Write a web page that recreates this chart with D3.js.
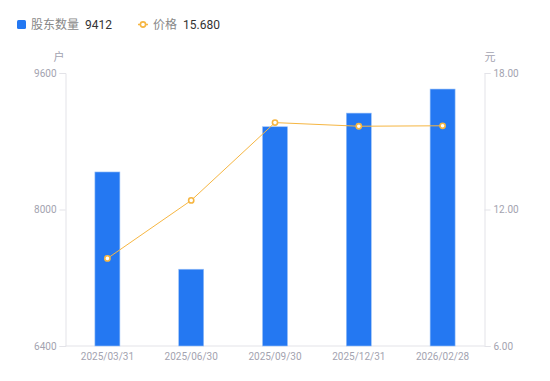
<!DOCTYPE html>
<html><head><meta charset="utf-8">
<script src="https://cdn.jsdelivr.net/npm/d3@7"></script>
<style>body{margin:0;background:#fff;font-family:"Noto Sans CJK SC","Noto Sans",sans-serif;}</style>
</head><body>
<svg id="c" width="550" height="381"></svg>
<script>
const categories = ["2025/03/31","2025/06/30","2025/09/30","2025/12/31","2026/02/28"];
const holders = [8440, 7300, 8970, 9130, 9412];
const prices = [9.85, 12.40, 15.82, 15.66, 15.68];
const leftTicks = [6400, 8000, 9600];
const rightTicks = [6, 12, 18];

const svg = d3.select("#c");
const m = {l:65.5, r:484.5, t:73, b:346};
const x = d3.scaleBand().domain(categories).range([m.l, m.r]);
const yL = d3.scaleLinear().domain([6400, 9600]).range([m.b, m.t]);
const yR = d3.scaleLinear().domain([6, 18]).range([m.b, m.t]);
const grayText = "#a3a3b0", axisCol = "#e3e3e8";

// left axis
const gl = svg.append("g").attr("transform",`translate(${m.l},0)`)
  .call(d3.axisLeft(yL).tickValues(leftTicks).tickSize(6).tickPadding(3).tickFormat(d3.format("d")));
// right axis
const gr = svg.append("g").attr("transform",`translate(${m.r},0)`)
  .call(d3.axisRight(yR).tickValues(rightTicks).tickSize(6).tickPadding(3).tickFormat(d3.format(".2f")));
// bottom axis
const gb = svg.append("g").attr("transform",`translate(0,${m.b})`)
  .call(d3.axisBottom(x).tickSize(0).tickPadding(7));
[gl,gr,gb].forEach(g=>{
  g.selectAll("path").attr("stroke",axisCol);
  g.selectAll("line").attr("stroke",axisCol);
  g.selectAll("text").attr("fill",grayText).style("font-size","10px").style("font-family","Roboto,'Liberation Sans',sans-serif");
});
gb.select("path").attr("d",`M${m.l},0H${m.r}`);

svg.append("text").attr("x",59).attr("y",61).attr("text-anchor","middle").attr("fill",grayText)
  .style("font-size","11px").text("户");
svg.append("text").attr("x",490).attr("y",61).attr("text-anchor","middle").attr("fill",grayText)
  .style("font-size","11px").text("元");

// bars
const bw = 25;
svg.append("g").selectAll("rect").data(holders).join("rect")
  .attr("x",(d,i)=>x(categories[i])+x.bandwidth()/2-bw/2)
  .attr("y",d=>yL(d)).attr("width",bw).attr("height",d=>m.b-yL(d))
  .attr("fill","#2478f2").attr("stroke","#9cc2f7").attr("stroke-width",0.6);

// line
const lineCol = "#f6b642";
const line = d3.line().x((d,i)=>x(categories[i])+x.bandwidth()/2).y(d=>yR(d));
svg.append("path").datum(prices).attr("d",line).attr("fill","none").attr("stroke",lineCol).attr("stroke-width",1);
svg.append("g").selectAll("circle").data(prices).join("circle")
  .attr("cx",(d,i)=>x(categories[i])+x.bandwidth()/2).attr("cy",d=>yR(d)).attr("r",2.6)
  .attr("fill","#fff").attr("stroke",lineCol).attr("stroke-width",1.6);

// legend
const lg = svg.append("g").style("font-size","12px");
lg.append("rect").attr("x",17).attr("y",20).attr("width",9).attr("height",9).attr("rx",1.5).attr("fill","#2478f2");
lg.append("text").attr("x",31).attr("y",29).attr("fill","#888").text("股东数量");
lg.append("text").attr("x",85).attr("y",29).attr("fill","#333").style("font-family","Roboto,'Liberation Sans',sans-serif").text(holders[holders.length-1]);
lg.append("line").attr("x1",138).attr("x2",148).attr("y1",24.5).attr("y2",24.5).attr("stroke",lineCol).attr("stroke-width",1.5);
lg.append("circle").attr("cx",143).attr("cy",24.5).attr("r",2.6).attr("fill","#fff").attr("stroke",lineCol).attr("stroke-width",1.6);
lg.append("text").attr("x",153).attr("y",29).attr("fill","#888").text("价格");
lg.append("text").attr("x",183).attr("y",29).attr("fill","#333").style("font-family","Roboto,'Liberation Sans',sans-serif").text(prices[prices.length-1].toFixed(3));
</script>
</body></html>
